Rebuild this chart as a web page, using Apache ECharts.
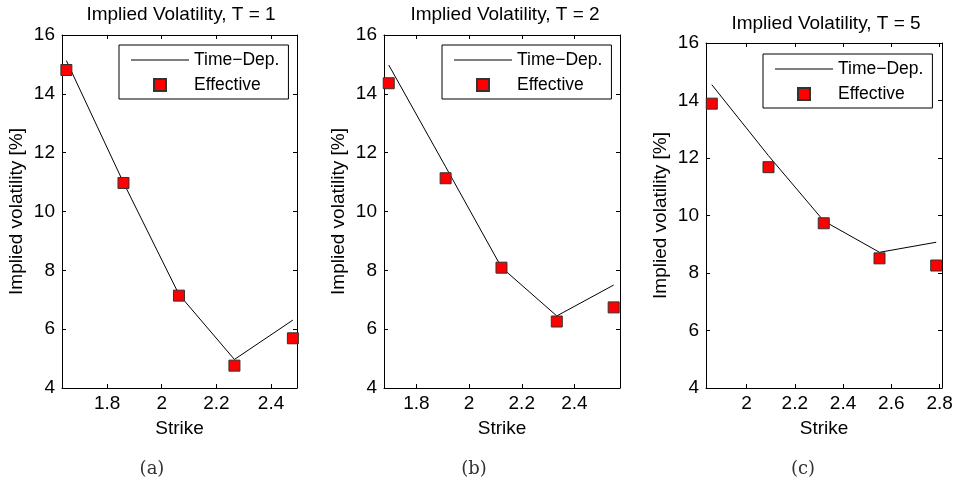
<!DOCTYPE html>
<html><head><meta charset="utf-8">
<script src="https://cdn.jsdelivr.net/npm/echarts@6/dist/echarts.min.js"></script>
<style>html,body{margin:0;padding:0;background:#fff}#c{width:961px;height:481px}</style>
</head><body><div id="c"></div>
<script>
// ---- data ----
const strikesA   = [1.651, 1.860, 2.063, 2.266, 2.480];
const timeDepA   = [15.13, 10.98, 7.18, 4.97, 6.31];
const effectiveA = [14.81, 10.97, 7.14, 4.76, 5.69];

const strikesB   = [1.695, 1.911, 2.123, 2.333, 2.549];
const timeDepB   = [14.98, 11.52, 8.10, 6.45, 7.50];
const effectiveB = [14.36, 11.13, 8.09, 6.26, 6.74];

const strikesC   = [1.856, 2.091, 2.320, 2.551, 2.786];
const timeDepC   = [14.55, 12.08, 9.81, 8.72, 9.07];
const effectiveC = [13.89, 11.68, 9.73, 8.51, 8.26];

const panelTitles = ['Implied Volatility, T = 1', 'Implied Volatility, T = 2', 'Implied Volatility, T = 5'];
const captions = ['(a)', '(b)', '(c)'];
const xRanges = [[1.635, 2.495], [1.677, 2.573], [1.832, 2.81]];
const yMin = 4, yMax = 16, yStep = 2;
const xStep = 0.2;
const seriesNames = ['Time\u2212Dep.', 'Effective'];
const xName = 'Strike';
const yName = 'Implied volatility [%]';

// ---- layout ----
const FONT = '"Liberation Sans", Arial, Helvetica, sans-serif';
const grids = [
  {left: 62, top: 35, width: 235, height: 353},
  {left: 384, top: 35, width: 236, height: 353},
  {left: 706, top: 43, width: 236, height: 345}
];
const legendPos = [{left: 119, top: 45}, {left: 442, top: 45}, {left: 763, top: 54}];
const titlePos = [[181, 15], [505, 15], [826, 24]];
const captionPos = [[152, 469], [474, 469], [803, 469]];

const panels = [
  {x: strikesA, line: timeDepA, eff: effectiveA},
  {x: strikesB, line: timeDepB, eff: effectiveB},
  {x: strikesC, line: timeDepC, eff: effectiveC}
];

const xAxes = [], yAxes = [], series = [], legends = [], graphics = [];
const axisLine = {show: true, onZero: false, lineStyle: {color: '#000', width: 1}};
const tickIn = {show: true, inside: true, length: 4, lineStyle: {color: '#000', width: 1}};

panels.forEach((p, i) => {
  const [xmin, xmax] = xRanges[i];
  xAxes.push({
    type: 'value', gridIndex: i, position: 'bottom', min: xmin, max: xmax, splitNumber: 5,
    axisLine, axisTick: tickIn, splitLine: {show: false},
    axisLabel: {
      color: '#000', fontSize: 19, fontFamily: FONT, margin: 6,
      formatter: v => {
        const k = v / xStep;
        return Math.abs(k - Math.round(k)) < 1e-6 ? String(+v.toFixed(1)) : '';
      }
    },
    name: xName, nameLocation: 'middle', nameGap: 31,
    nameTextStyle: {color: '#000', fontSize: 19, fontFamily: FONT}
  });
  xAxes.push({
    type: 'value', gridIndex: i, position: 'top', min: xmin, max: xmax, splitNumber: 5,
    axisLine, axisTick: tickIn, splitLine: {show: false}, axisLabel: {show: false}
  });
  yAxes.push({
    type: 'value', gridIndex: i, position: 'left', min: yMin, max: yMax, interval: yStep,
    axisLine, axisTick: tickIn, splitLine: {show: false},
    axisLabel: {color: '#000', fontSize: 19, fontFamily: FONT, margin: 7},
    name: yName, nameLocation: 'middle', nameGap: 36,
    nameTextStyle: {color: '#000', fontSize: 19, fontFamily: FONT}
  });
  yAxes.push({
    type: 'value', gridIndex: i, position: 'right', min: yMin, max: yMax, interval: yStep,
    axisLine, axisTick: tickIn, splitLine: {show: false}, axisLabel: {show: false}
  });
  series.push({
    type: 'line', name: seriesNames[0], xAxisIndex: 2 * i, yAxisIndex: 2 * i,
    data: p.x.map((x, j) => [x, p.line[j]]),
    symbol: 'none', showSymbol: false, animation: false, z: 2,
    lineStyle: {color: '#000', width: 1}, itemStyle: {color: '#000'}
  });
  series.push({
    type: 'scatter', name: seriesNames[1], xAxisIndex: 2 * i, yAxisIndex: 2 * i,
    data: p.x.map((x, j) => [x, p.eff[j]]),
    symbol: 'rect', symbolSize: 11, animation: false, z: 3, clip: false,
    itemStyle: {color: '#ff0000', borderColor: '#333', borderWidth: 1, opacity: 1}
  });
  legends.push(Object.assign({
    orient: 'vertical', selectedMode: false, symbolKeepAspect: true,
    data: [
      {name: seriesNames[0], icon: 'path://M0,0L58,0L58,1L0,1Z', itemStyle: {color: '#000', borderWidth: 0}},
      {name: seriesNames[1], icon: 'path://M0,0L10,0L10,10L0,10Z'}
    ],
    itemWidth: 58, itemHeight: 12, itemGap: 7,
    padding: [6, 9, 5, 12], borderColor: '#000', borderWidth: 1, backgroundColor: '#fff',
    textStyle: {color: '#000', fontSize: 17.5, fontFamily: FONT}
  }, legendPos[i]));
  graphics.push({
    type: 'text', x: titlePos[i][0], y: titlePos[i][1],
    style: {text: panelTitles[i], fill: '#000', font: '19px ' + FONT, textAlign: 'center', textVerticalAlign: 'middle'}
  });
  graphics.push({
    type: 'text', x: captionPos[i][0], y: captionPos[i][1],
    style: {text: captions[i], fill: '#333', font: '18px "DejaVu Serif", "Liberation Serif", serif', textAlign: 'center', textVerticalAlign: 'middle'}
  });
});

const chart = echarts.init(document.getElementById('c'), null, {renderer: 'canvas'});
chart.setOption({
  backgroundColor: '#fff',
  animation: false,
  grid: grids,
  xAxis: xAxes,
  yAxis: yAxes,
  legend: legends,
  series: series,
  graphic: graphics
});
</script>
</body></html>
